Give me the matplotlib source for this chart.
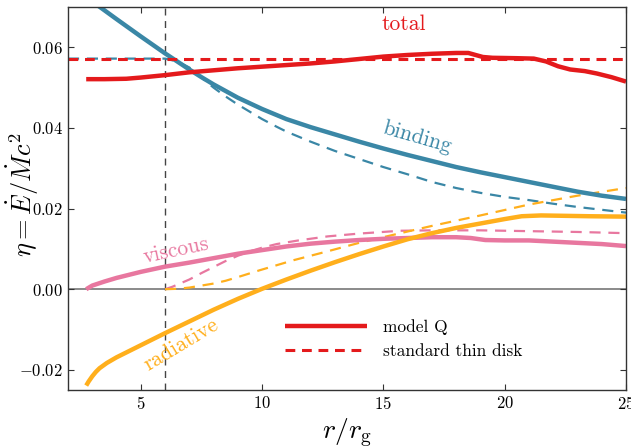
import matplotlib
matplotlib.use("Agg")
import matplotlib.pyplot as plt

plt.rcParams["font.family"] = "serif"
plt.rcParams["font.serif"] = ["cmr10"]
plt.rcParams["mathtext.fontset"] = "cm"
plt.rcParams["axes.formatter.use_mathtext"] = True

# colours
RED = "#e41a1c"
BLUE = "#3a87a6"
PINK = "#e8779f"
ORANGE = "#ffaf1c"

# model curves
total_r = [2.75, 3.5, 4.4, 5.0, 6.0, 7.0, 8.0, 9.0, 10.0, 11.0, 12.0, 13.0, 14.0, 15.0,
           16.0, 17.0, 18.0, 18.5, 18.8, 19.1, 19.5, 20.5, 21.2, 21.7, 22.2, 22.7, 23.3,
           23.8, 24.4, 25.0]
total = [0.0521, 0.0521, 0.0522, 0.0525, 0.0531, 0.0538, 0.0543, 0.0548, 0.0552, 0.0556,
         0.0560, 0.0565, 0.0571, 0.0577, 0.0581, 0.0584, 0.0586, 0.0586, 0.0581, 0.0576,
         0.0574, 0.0573, 0.0572, 0.0565, 0.0553, 0.0545, 0.0541, 0.0535, 0.0526, 0.0515]

binding_r = [3.2, 4.0, 5.0, 6.0, 7.0, 7.5, 8.0, 9.0, 10.0, 11.0, 12.0, 13.0, 14.0, 15.0,
             16.0, 17.0, 18.0, 19.0, 20.0, 21.0, 22.0, 23.0, 24.0, 25.0]
binding = [0.0705, 0.0670, 0.0627, 0.0585, 0.0545, 0.0526, 0.0508, 0.0475, 0.0447, 0.0422,
           0.0402, 0.0384, 0.0366, 0.0349, 0.0333, 0.0318, 0.0303, 0.0290, 0.0278, 0.0266,
           0.0254, 0.0242, 0.0232, 0.0224]

viscous_r = [2.75, 3.0, 3.5, 4.0, 5.0, 6.0, 7.0, 8.0, 9.0, 10.0, 11.0, 12.0, 13.0, 14.0,
             15.0, 16.0, 17.0, 18.0, 18.6, 19.2, 20.0, 21.0, 22.0, 23.0, 24.0, 25.0]
viscous = [0.0, 0.0009, 0.0019, 0.0028, 0.0043, 0.0056, 0.0066, 0.0077, 0.0088, 0.0097,
           0.0106, 0.0113, 0.0118, 0.0122, 0.0125, 0.0127, 0.0129, 0.0129, 0.0127, 0.0122,
           0.0121, 0.0121, 0.0118, 0.0115, 0.0112, 0.0107]

radiative_r = [2.75, 2.85, 3.0, 3.15, 3.3, 3.6, 4.0, 4.7, 5.3, 6.0, 7.0, 8.0, 9.0, 10.0,
               11.0, 12.0, 13.0, 14.0, 15.0, 16.0, 17.0, 18.0, 19.0, 20.0, 20.7, 21.5,
               22.5, 23.5, 25.0]
radiative = [-0.0239, -0.0229, -0.0216, -0.0205, -0.0196, -0.0183, -0.0169, -0.0148,
             -0.0130, -0.0109, -0.0080, -0.0051, -0.0024, 0.0001, 0.0024, 0.0046, 0.0067,
             0.0087, 0.0106, 0.0124, 0.0139, 0.0152, 0.0163, 0.0174, 0.0181, 0.0183,
             0.0182, 0.0181, 0.0180]

# standard thin disk
thin_total_r = [2.0, 25.0]
thin_total = [0.0572, 0.0572]

thin_binding_r = [2.0, 6.0, 6.5, 7.0, 7.5, 8.0, 8.5, 9.0, 10.0, 10.6, 11.0, 12.0, 13.0,
                  14.0, 15.0, 16.0, 17.0, 18.0, 19.0, 20.0, 21.0, 22.0, 23.0, 24.0, 25.0]
thin_binding = [0.0572, 0.0572, 0.0565, 0.0550, 0.0525, 0.0500, 0.0478, 0.0458, 0.0422,
                0.0403, 0.0391, 0.0366, 0.0343, 0.0323, 0.0303, 0.0285, 0.0266, 0.0251,
                0.0239, 0.0229, 0.0221, 0.0212, 0.0204, 0.0197, 0.0190]

thin_viscous_r = [6.0, 6.3, 7.0, 7.5, 8.0, 8.5, 9.0, 9.5, 10.0, 10.6, 11.5, 12.7, 14.0,
                  15.7, 17.0, 19.0, 21.0, 23.0, 25.0]
thin_viscous = [0.0, 0.0006, 0.0024, 0.0040, 0.0055, 0.0070, 0.0083, 0.0094, 0.0103,
                0.0112, 0.0121, 0.0131, 0.0138, 0.0145, 0.0146, 0.0146, 0.0144, 0.0142,
                0.0139]

thin_radiative_r = [6.0, 6.5, 7.0, 7.5, 8.0, 8.5, 9.0, 9.9, 11.3, 12.7, 14.0, 15.7, 17.0,
                    19.0, 21.0, 23.0, 25.0]
thin_radiative = [0.0, 0.0001, 0.0004, 0.0009, 0.0014, 0.0021, 0.0030, 0.0047, 0.0072,
                  0.0094, 0.0115, 0.0139, 0.0157, 0.0183, 0.0210, 0.0232, 0.0251]

r_isco = 6.0

fig = plt.figure(figsize=(6.31, 4.47), dpi=100)
ax = fig.add_axes([68 / 631, 57 / 447, 558 / 631, 383 / 447])

ax.axhline(0, color="#777777", lw=1.2, zorder=1)
ax.axvline(r_isco, color="#444444", lw=1.0, dashes=(5, 4), zorder=1)

ax.plot(thin_binding_r, thin_binding, color=BLUE, lw=1.6, dashes=(5, 3.5))
ax.plot(thin_viscous_r, thin_viscous, color=PINK, lw=1.6, dashes=(5, 3.5))
ax.plot(thin_radiative_r, thin_radiative, color=ORANGE, lw=1.6, dashes=(5, 3.5))

ax.plot(binding_r, binding, color=BLUE, lw=3.2, solid_capstyle="butt", solid_joinstyle="round")
ax.plot(viscous_r, viscous, color=PINK, lw=3.2, solid_capstyle="butt", solid_joinstyle="round")
ax.plot(radiative_r, radiative, color=ORANGE, lw=3.2, solid_capstyle="butt",
        solid_joinstyle="round")

l1, = ax.plot(total_r, total, color=RED, lw=3.2, solid_capstyle="butt",
              solid_joinstyle="round", label="model Q")
l2, = ax.plot(thin_total_r, thin_total, color=RED, lw=2.2, dashes=(3.2, 2.2),
              label="standard thin disk")

ax.text(15.85, 0.0658, "total", color=RED, fontsize=15.5, ha="center", va="center")
ax.text(16.4, 0.0377, "binding", color=BLUE, fontsize=15.5, ha="center", va="center",
        rotation=-16)
ax.text(6.45, 0.0097, "viscous", color=PINK, fontsize=15.5, ha="center", va="center",
        rotation=12)
ax.text(6.65, -0.0137, "radiative", color=ORANGE, fontsize=15.5, ha="center", va="center",
        rotation=31)

ax.legend(handles=[l1, l2], loc="center left", bbox_to_anchor=(0.377, 0.132),
          frameon=False, fontsize=12.5, handlelength=4.7, handletextpad=0.9,
          borderaxespad=0)

ax.set_xlim(2, 25)
ax.set_ylim(-0.025, 0.07)
ax.set_xticks([5, 10, 15, 20, 25])
ax.set_yticks([-0.02, 0.0, 0.02, 0.04, 0.06])
ax.set_yticklabels([r"$-0.02$", r"$0.00$", r"$0.02$", r"$0.04$", r"$0.06$"])
ax.set_xticklabels([r"$5$", r"$10$", r"$15$", r"$20$", r"$25$"])
ax.tick_params(direction="in", top=True, right=True, labelsize=12, length=4,
               color="#333333")
for s in ax.spines.values():
    s.set_color("#333333")
    s.set_linewidth(1.0)

ax.set_xlabel(r"$r/r_{\rm g}$", fontsize=20)
ax.xaxis.set_label_coords(0.5, -0.07)
ax.set_ylabel(r"$\eta = \dot{E}/\dot{M}c^2$", fontsize=19, va="center")
ax.yaxis.set_label_coords(-0.08, 0.51)

fig.savefig("out.png", dpi=100)
